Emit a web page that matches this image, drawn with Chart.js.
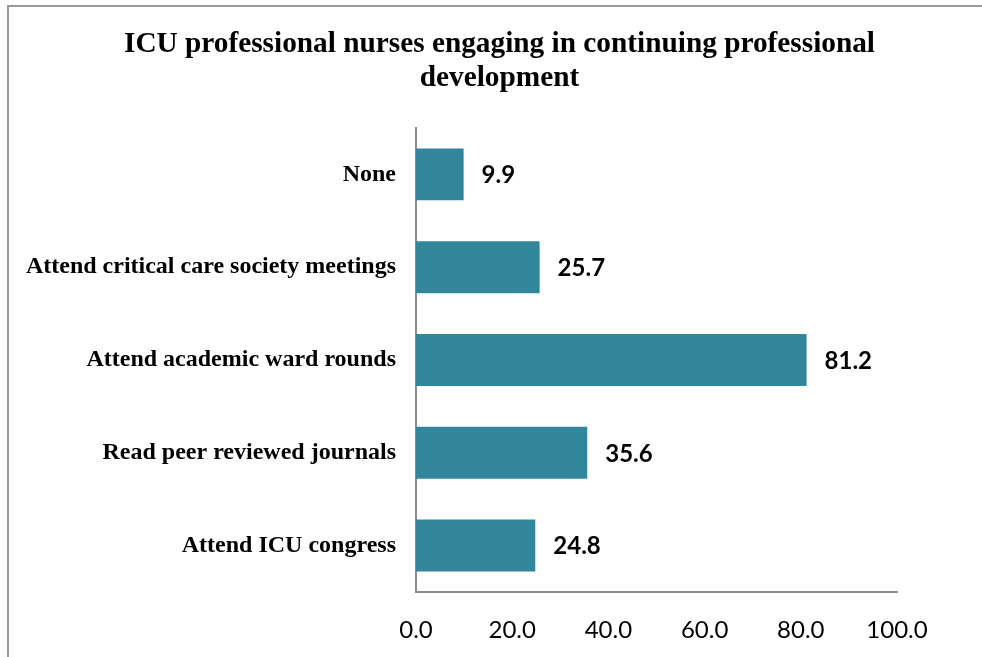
<!DOCTYPE html>
<html>
<head>
<meta charset="utf-8">
<script src="https://cdn.jsdelivr.net/npm/chart.js@4.4.1/dist/chart.umd.min.js"></script>
<style>
  html, body { margin: 0; padding: 0; background: #fff; }
  #frame { position: absolute; left: 7px; top: 5px; width: 990px; height: 670px;
           border-left: 2px solid #9a9a9a; border-top: 2px solid #9a9a9a; }
  #wrap { position: absolute; left: 0; top: 0; width: 982px; height: 657px; }
</style>
</head>
<body>
<div id="frame"></div>
<div id="wrap"><canvas id="c" width="982" height="657"></canvas></div>
<script>
const categories = [
  "None",
  "Attend critical care society meetings",
  "Attend academic ward rounds",
  "Read peer reviewed journals",
  "Attend ICU congress"
];
const values = [9.9, 25.7, 81.2, 35.6, 24.8];
const xTicks = [0, 20, 40, 60, 80, 100];
const titleLines = ["ICU professional nurses engaging in continuing professional", "development"];

const valueLabels = {
  id: 'valueLabels',
  afterDatasetsDraw(chart) {
    const ctx = chart.ctx;
    const meta = chart.getDatasetMeta(0);
    ctx.save();
    ctx.font = 'bold 24px Lato';
    ctx.fillStyle = '#000';
    ctx.textAlign = 'left';
    ctx.textBaseline = 'middle';
    meta.data.forEach((bar, i) => {
      ctx.fillText(values[i].toFixed(1), bar.x + 18, bar.y + 1);
    });
    ctx.restore();
  }
};

// shift the title's horizontal box so it centres where the reference does
const titleShift = {
  id: 'titleShift',
  afterLayout(chart) {
    if (chart.titleBlock) chart.titleBlock.left = 102;
  }
};

new Chart(document.getElementById('c'), {
  type: 'bar',
  data: {
    labels: categories,
    datasets: [{
      data: values,
      backgroundColor: '#31869c',
      borderWidth: 0,
      barPercentage: 0.56,
      categoryPercentage: 1.0
    }]
  },
  options: {
    indexAxis: 'y',
    responsive: false,
    animation: false,
    layout: { padding: { left: 16, right: 85, top: 0, bottom: 0 } },
    plugins: {
      legend: { display: false },
      tooltip: { enabled: false },
      title: {
        display: true,
        text: titleLines,
        color: '#000',
        font: { family: 'Liberation Serif', weight: 'bold', size: 29.3, lineHeight: 1.16 },
        padding: { top: 27, bottom: 33 }
      }
    },
    scales: {
      x: {
        min: 0, max: 100,
        afterBuildTicks(scale) { scale.ticks = xTicks.map(v => ({ value: v })); },
        afterFit(scale) { scale.height = 65; },
        grid: { display: false, drawTicks: false },
        border: { display: true, color: '#8c8c8c', width: 2 },
        ticks: {
          callback: v => Number(v).toFixed(1),
          color: '#000',
          font: { family: 'Lato', size: 24 },
          padding: 24,
          maxRotation: 0
        }
      },
      y: {
        afterFit(scale) { scale.width = 400; },
        grid: { display: false, drawTicks: false },
        border: { display: true, color: '#8c8c8c', width: 2 },
        ticks: {
          color: '#000',
          font: { family: 'Liberation Serif', weight: 'bold', size: 24 },
          padding: 20
        }
      }
    }
  },
  plugins: [valueLabels, titleShift]
});
</script>
</body>
</html>
